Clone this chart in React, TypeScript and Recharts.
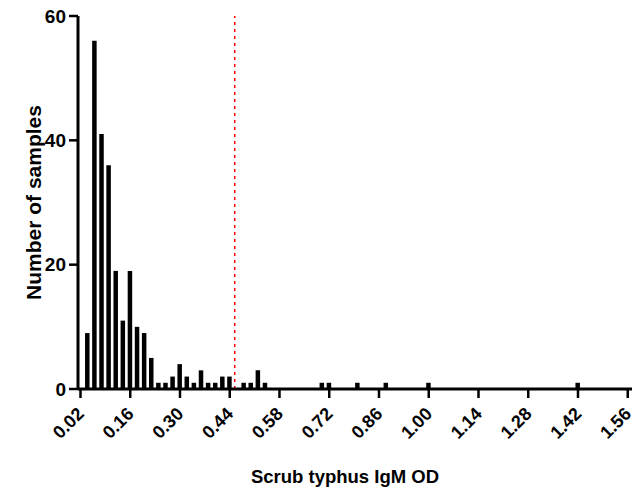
import { BarChart, Bar, XAxis, YAxis, ReferenceLine } from "recharts";

// bin centres (OD) and number of samples in each 0.02-wide bin (empty bins left out)
const binCenters = [
  0.04, 0.06, 0.08, 0.1, 0.12, 0.14, 0.16, 0.18, 0.2, 0.22, 0.24, 0.26, 0.28, 0.3, 0.32, 0.34,
  0.36, 0.38, 0.4, 0.42, 0.44, 0.48, 0.5, 0.52, 0.54, 0.7, 0.72, 0.8, 0.88, 1.0, 1.42,
];
const sampleCounts = [
  9, 56, 41, 36, 19, 11, 19, 10, 9, 5, 1, 1, 2, 4, 2, 1,
  3, 1, 1, 2, 2, 1, 1, 3, 1, 1, 1, 1, 1, 1, 1,
];
const xTicks = [0.02, 0.16, 0.3, 0.44, 0.58, 0.72, 0.86, 1.0, 1.14, 1.28, 1.42, 1.56];
const yTicks = [0, 20, 40, 60];
const cutoff = 0.454;

const FONT = "'Liberation Sans', Arial, Helvetica, sans-serif";

const chartData = binCenters.map((x, i) => ({ x, count: sampleCounts[i] }));

function AngledTick({ x, y, payload }: any) {
  return (
    <g transform={`translate(${x + 4.5},${y + 15})`}>
      <text
        textAnchor="end"
        transform="rotate(-45)"
        fontFamily={FONT}
        fontWeight="bold"
        fontSize={18}
        fill="#000"
      >
        {Number(payload.value).toFixed(2)}
      </text>
    </g>
  );
}

export default function App() {
  return (
    <div style={{ position: "absolute", left: 0, top: 0, width: 632, height: 491, background: "#fff" }}>
      <BarChart
        width={632}
        height={491}
        data={chartData}
        margin={{ top: 16, right: 0, bottom: 0, left: 0 }}
        barCategoryGap={0}
      >
        <XAxis
          type="number"
          dataKey="x"
          domain={[0.013, 1.572]}
          allowDataOverflow
          ticks={xTicks}
          interval={0}
          height={102}
          tickSize={9}
          axisLine={{ stroke: "#000", strokeWidth: 3 }}
          tickLine={{ stroke: "#000", strokeWidth: 2.5 }}
          tick={<AngledTick />}
          label={{
            content: ({ viewBox }: any) => (
              <text
                x={viewBox.x + viewBox.width / 2 - 10}
                y={viewBox.y + 94}
                textAnchor="middle"
                fontFamily={FONT}
                fontWeight="bold"
                fontSize={18.5}
                fill="#000"
              >
                Scrub typhus IgM OD
              </text>
            ),
          }}
        />
        <YAxis
          type="number"
          domain={[0, 60]}
          ticks={yTicks}
          width={78}
          tickSize={9}
          tickMargin={3}
          axisLine={{ stroke: "#000", strokeWidth: 3 }}
          tickLine={{ stroke: "#000", strokeWidth: 2.5 }}
          tick={{ fontFamily: FONT, fontWeight: "bold", fontSize: 19, fill: "#000" }}
          label={{
            content: ({ viewBox }: any) => (
              <text
                x={41}
                y={viewBox.y + viewBox.height / 2}
                transform={`rotate(-90, 41, ${viewBox.y + viewBox.height / 2})`}
                textAnchor="middle"
                fontFamily={FONT}
                fontWeight="bold"
                fontSize={21}
                fill="#000"
              >
                Number of samples
              </text>
            ),
          }}
        />
        <Bar dataKey="count" fill="#000" barSize={4.5} isAnimationActive={false} />
        <ReferenceLine x={cutoff} stroke="#ff0000" strokeWidth={1.5} strokeDasharray="3 4" />
      </BarChart>
    </div>
  );
}
